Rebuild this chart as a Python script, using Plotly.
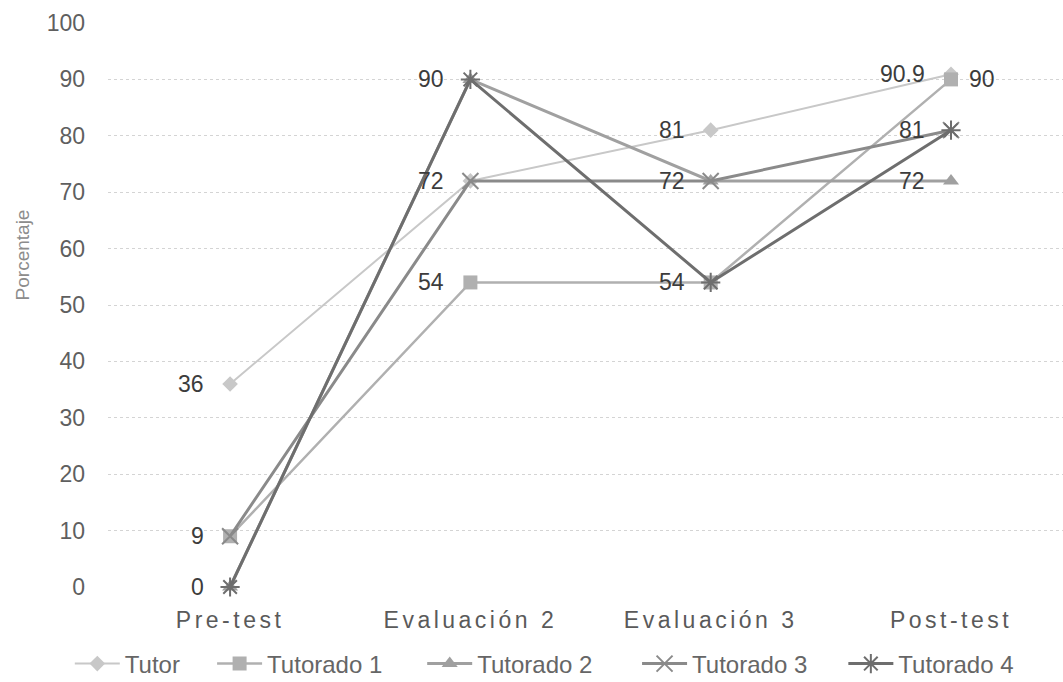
import plotly.graph_objects as go

# Categories and scores per participant
categories = ["Pre-test", "Evaluación 2", "Evaluación 3", "Post-test"]
series_names = ["Tutor", "Tutorado 1", "Tutorado 2", "Tutorado 3", "Tutorado 4"]
tutor = [36, 72, 81, 90.9]
tutorado_1 = [9, 54, 54, 90]
tutorado_2 = [0, 90, 72, 72]
tutorado_3 = [9, 72, 72, 81]
tutorado_4 = [0, 90, 54, 81]
y_ticks = [0, 10, 20, 30, 40, 50, 60, 70, 80, 90, 100]

# Which points carry a value label (coinciding points are labelled once)
show_labels = [
    [True, True, True, True],
    [True, True, True, True],
    [True, True, True, True],
    [False, False, False, True],
    [False, False, False, False],
]
# Side of the marker on which each label sits
label_sides = [
    ["left", "left", "left", "left"],
    ["left", "left", "left", "right"],
    ["left", "left", "left", "left"],
    ["left", "left", "left", "left"],
    ["left", "left", "left", "left"],
]

values = [tutor, tutorado_1, tutorado_2, tutorado_3, tutorado_4]
colors = ["#c8c8c8", "#b0b0b0", "#a0a0a0", "#8a8a8a", "#6e6e6e"]
symbols = ["diamond", "square", "triangle-up", "x-thin-open", "asterisk-open"]
marker_sizes = [12, 14, 14, 16, 16]
line_widths = [2, 2.5, 3, 3, 3]

# Horizontal legend entries, left edge of each (paper fraction)
legend_x = [-0.040, 0.109, 0.329, 0.554, 0.770]

FONT = "Liberation Sans, Arial, sans-serif"


def fmt(v):
    return f"{v:g}"


fig = go.Figure()
annotations = []
for i, name in enumerate(series_names):
    vals = values[i]
    line_symbol = symbols[i].endswith("-open")
    legend_id = "legend" if i == 0 else f"legend{i + 1}"
    fig.add_trace(go.Scatter(
        x=categories,
        y=vals,
        name=name,
        mode="lines+markers",
        legend=legend_id,
        line=dict(color=colors[i], width=line_widths[i]),
        marker=dict(
            symbol=symbols[i],
            size=marker_sizes[i],
            color=colors[i],
            line=dict(color=colors[i], width=2 if line_symbol else 0),
        ),
        cliponaxis=False,
    ))
    for cat, v, show, side in zip(categories, vals, show_labels[i], label_sides[i]):
        if not show:
            continue
        annotations.append(dict(
            x=cat, y=v, xref="x", yref="y",
            text=fmt(v),
            showarrow=False,
            xanchor="right" if side == "left" else "left",
            yanchor="middle",
            xshift=-24 if side == "left" else 16,
            font=dict(family=FONT, size=23, color="#3c3c3c"),
        ))

annotations.append(dict(
    text="Porcentaje",
    xref="paper", yref="paper",
    x=-0.09, y=0.588,
    xanchor="center", yanchor="middle",
    textangle=-90,
    showarrow=False,
    font=dict(family=FONT, size=19, color="#8c8c8c"),
))

legend_common = dict(
    orientation="h",
    xanchor="left",
    y=-0.1365,
    yanchor="middle",
    font=dict(family=FONT, size=24, color="#666666"),
    bgcolor="rgba(0,0,0,0)",
    itemwidth=45,
)
legends = {}
for i, lx in enumerate(legend_x):
    key = "legend" if i == 0 else f"legend{i + 1}"
    legends[key] = dict(legend_common, x=lx)

fig.update_layout(
    width=1063,
    height=682,
    margin=dict(l=108, r=0, t=23, b=95, autoexpand=False),
    paper_bgcolor="white",
    plot_bgcolor="white",
    font=dict(family=FONT, color="#666666"),
    showlegend=True,
    xaxis=dict(
        type="category",
        range=[-0.508, 3.466],
        showgrid=False,
        showline=False,
        ticks="",
        tickfont=dict(family=FONT, size=23, color="#5a5a5a"),
        ticklabelstandoff=17,
        zeroline=False,
    ),
    yaxis=dict(
        range=[0, 100],
        tickvals=y_ticks,
        showgrid=True,
        gridcolor="#d4d4d4",
        gridwidth=1,
        griddash="dot",
        zeroline=False,
        showline=False,
        ticks="",
        tickfont=dict(family=FONT, size=23, color="#5f5f5f"),
        ticklabelstandoff=22,
    ),
    annotations=annotations,
    **legends,
)

# Widen the letter spacing of the category labels
post_js = """
document.querySelectorAll('.xtick text').forEach(function(t){
  t.style.letterSpacing = '3.5px';
});
"""

fig.write_html("out.html", post_script=post_js)
